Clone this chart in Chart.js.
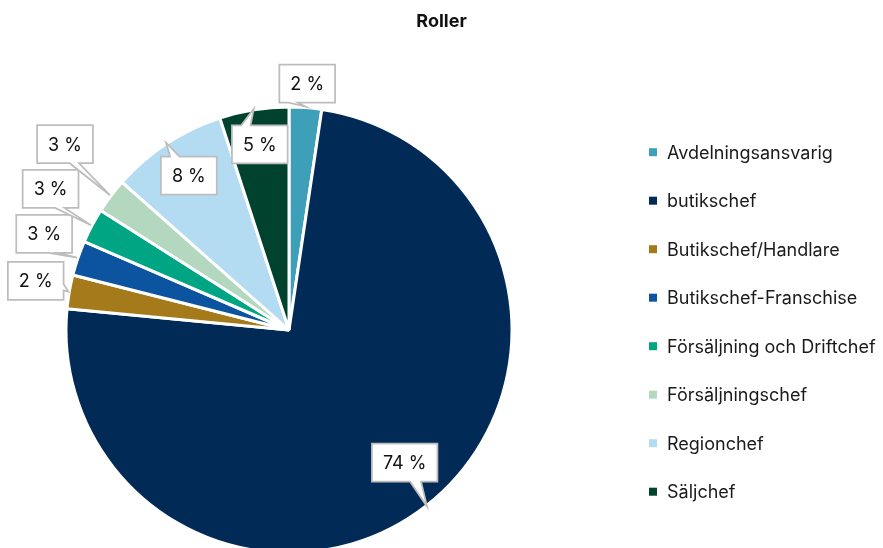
<!DOCTYPE html>
<html lang="sv">
<head>
<meta charset="utf-8">
<title>Roller</title>
<script src="https://cdn.jsdelivr.net/npm/chart.js@4.4.1/dist/chart.umd.min.js"></script>
<style>
  html, body { margin: 0; padding: 0; background: #fff; overflow: hidden; }
  #wrap { width: 883px; height: 660px; }
</style>
</head>
<body>
<div id="wrap"><canvas id="rollerChart" width="883" height="660"></canvas></div>
<script>
const roller = [
    "Avdelningsansvarig",
    "butikschef",
    "Butikschef/Handlare",
    "Butikschef-Franschise",
    "Försäljning och Driftchef",
    "Försäljningschef",
    "Regionchef",
    "Säljchef",
];
const andel = [2.35, 74.17, 2.45, 2.52, 2.52, 2.52, 8.45, 5.02];
const farger = ["#3e9fb8", "#012b56", "#a47a1b", "#0c54a0", "#00a683", "#b4d8bf", "#b3dcf3", "#00422d"];

const FONT = 'Inter, "Noto Sans", sans-serif';

// rubrik ovanför hela diagrammet
const rubrikPlugin = {
    id: "rubrik",
    afterDraw(chart, args, opts) {
        const ctx = chart.ctx;
        ctx.save();
        ctx.font = "bold 18px " + FONT;
        ctx.fillStyle = "#111";
        ctx.textAlign = "center";
        ctx.fillText(opts.text, opts.x, opts.y);
        ctx.restore();
    },
};

// förklaring till höger
const forklaringPlugin = {
    id: "forklaring",
    afterDraw(chart, args, opts) {
        const ctx = chart.ctx;
        const ds = chart.data.datasets[0];
        ctx.save();
        ctx.font = "18px " + FONT;
        chart.data.labels.forEach((label, i) => {
            const y = opts.top + i * opts.step;
            ctx.fillStyle = ds.backgroundColor[i];
            ctx.fillRect(opts.x, y - 4, 8, 8);
            ctx.fillStyle = "#1a1a1a";
            ctx.fillText(label, opts.x + 18, y + 6.5);
        });
        ctx.restore();
    },
};

function pratbubbla(ctx, x0, y0, w, h, tx, ty) {
    const cx = x0 + w / 2, cy = y0 + h / 2;
    const inne = tx > x0 && tx < x0 + w && ty > y0 && ty < y0 + h;
    const dx = (tx - cx) * h / w, dy = ty - cy;
    let kant = null;
    if (!inne) {
        if (Math.abs(dx) > Math.abs(dy)) kant = dx < 0 ? "v" : "h";
        else kant = dy < 0 ? "o" : "n";
    }
    const bx = tx < cx ? [x0 + w * 2 / 12, x0 + w * 4 / 12] : [x0 + w * 7 / 12, x0 + w * 9 / 12];
    const by = ty < cy ? [y0 + h * 2 / 12, y0 + h * 4 / 12] : [y0 + h * 7 / 12, y0 + h * 9 / 12];

    ctx.beginPath();
    ctx.moveTo(x0, y0);
    if (kant === "o") { ctx.lineTo(bx[0], y0); ctx.lineTo(tx, ty); ctx.lineTo(bx[1], y0); }
    ctx.lineTo(x0 + w, y0);
    if (kant === "h") { ctx.lineTo(x0 + w, by[0]); ctx.lineTo(tx, ty); ctx.lineTo(x0 + w, by[1]); }
    ctx.lineTo(x0 + w, y0 + h);
    if (kant === "n") { ctx.lineTo(bx[1], y0 + h); ctx.lineTo(tx, ty); ctx.lineTo(bx[0], y0 + h); }
    ctx.lineTo(x0, y0 + h);
    if (kant === "v") { ctx.lineTo(x0, by[1]); ctx.lineTo(tx, ty); ctx.lineTo(x0, by[0]); }
    ctx.closePath();
    ctx.fill();
    ctx.stroke();
}

// procentetiketter i pratbubblor som pekar på respektive tårtbit
const etikettPlugin = {
    id: "etiketter",
    afterDatasetsDraw(chart, args, opts) {
        const ctx = chart.ctx;
        const data = chart.data.datasets[0].data;
        const total = data.reduce((a, b) => a + b, 0);
        const meta = chart.getDatasetMeta(0);
        ctx.save();
        ctx.font = "18px " + FONT;
        ctx.lineWidth = 1.75;
        ctx.strokeStyle = "#bdbdbd";
        ctx.lineJoin = "miter";
        meta.data.forEach((arc, i) => {
            const p = arc.getProps(["x", "y", "startAngle", "endAngle", "outerRadius"], true);
            const mitt = (p.startAngle + p.endAngle) / 2;
            const tx = p.x + Math.cos(mitt) * (p.outerRadius + 1);
            const ty = p.y + Math.sin(mitt) * (p.outerRadius + 1);
            const a = mitt + opts.vrid[i] * Math.PI / 180;
            const bxc = p.x + Math.cos(a) * opts.avstand[i];
            const byc = p.y + Math.sin(a) * opts.avstand[i];
            const text = Math.round(data[i] / total * 100) + " %";
            const w = ctx.measureText(text).width + 2 * opts.padX;
            const h = opts.hojd;
            ctx.fillStyle = "#fff";
            pratbubbla(ctx, bxc - w / 2, byc - h / 2, w, h, tx, ty);
            ctx.fillStyle = "#111";
            ctx.textAlign = "center";
            ctx.fillText(text, bxc, byc + 6.5);
        });
        ctx.restore();
    },
};

new Chart(document.getElementById("rollerChart"), {
    type: "pie",
    data: {
        labels: roller,
        datasets: [
            {
                data: andel,
                backgroundColor: farger,
                borderColor: "#fff",
                borderWidth: 3,
                hoverOffset: 0,
                radius: 223,
            },
        ],
    },
    options: {
        responsive: false,
        animation: false,
        layout: { padding: { top: 0, right: 305, bottom: 0, left: 0 } },
        plugins: {
            legend: { display: false },
            tooltip: { enabled: false },
            rubrik: { text: "Roller", x: 441.5, y: 27 },
            forklaring: { x: 649, top: 152.2, step: 48.5 },
            etiketter: {
                avstand: [247, 176, 258, 263, 277, 291, 184, 188],
                vrid: [0, -3.06, 1.1, 2.6, 2.7, 2.7, 0.3, 0.1],
                padX: 11,
                hojd: 38,
            },
        },
    },
    plugins: [rubrikPlugin, forklaringPlugin, etikettPlugin],
});
</script>
</body>
</html>
